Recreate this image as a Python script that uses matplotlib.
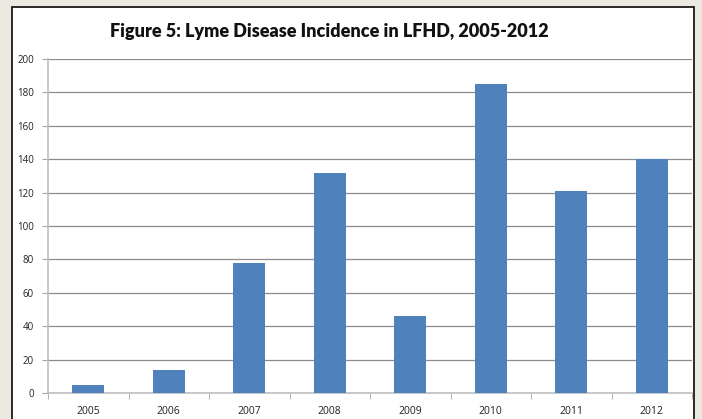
import matplotlib
matplotlib.use("Agg")
import matplotlib.pyplot as plt
from matplotlib.patches import Rectangle
import numpy as np

years = ["2005", "2006", "2007", "2008", "2009", "2010", "2011", "2012"]
cases = [5, 14, 78, 132, 46, 185, 121, 140]
y_ticks = list(range(0, 201, 20))

W, H = 702, 419
fig = plt.figure(figsize=(W / 100, H / 100), dpi=100)
fig.patch.set_facecolor("#ECE9E0")

# white chart box with dark border, running off the bottom edge
fig.patches.append(Rectangle((12 / W, -0.05), (694 - 12) / W, (H - 7) / H + 0.05,
                             transform=fig.transFigure, facecolor="white",
                             edgecolor="#1a1a1a", linewidth=1.3, zorder=-1))

ax = fig.add_axes([48 / W, (H - 393) / H, (692 - 48) / W, (393 - 59) / H])
ax.set_zorder(2)
ax.set_facecolor("white")

x = np.arange(len(years))
ax.bar(x, cases, width=0.4, color="#4F81BD", zorder=3)

ax.set_xlim(-0.5, len(years) - 0.5)
ax.set_ylim(0, 200)
ax.set_yticks(y_ticks)
ax.set_yticklabels([str(v) for v in y_ticks], fontsize=7, family="Open Sans", color="#222222")
ax.set_xticks(x)
ax.set_xticklabels(years, fontsize=7.5, family="Open Sans", color="#222222")
ax.tick_params(axis="x", length=0, pad=9)
ax.tick_params(axis="y", length=4, color="#A6A6A6", pad=6)
ax.set_xticks(np.arange(-0.5, len(years)), minor=True)
ax.tick_params(axis="x", which="minor", length=4, color="#A6A6A6")

ax.grid(True, axis="y", color="#8C8C8C", linewidth=0.9, zorder=0)
for s in ["top", "right"]:
    ax.spines[s].set_visible(False)
ax.spines["left"].set_color("#BFBFBF")
ax.spines["bottom"].set_color("#BFBFBF")
ax.spines["left"].set_linewidth(1.2)
ax.spines["bottom"].set_linewidth(1.2)

fig.text(329 / W, 1 - 32 / H, "Figure 5: Lyme Disease Incidence in LFHD, 2005-2012",
         ha="center", va="center", fontsize=13, fontweight="heavy", family="Lato",
         color="#111111")

fig.savefig("out.png", dpi=100)
